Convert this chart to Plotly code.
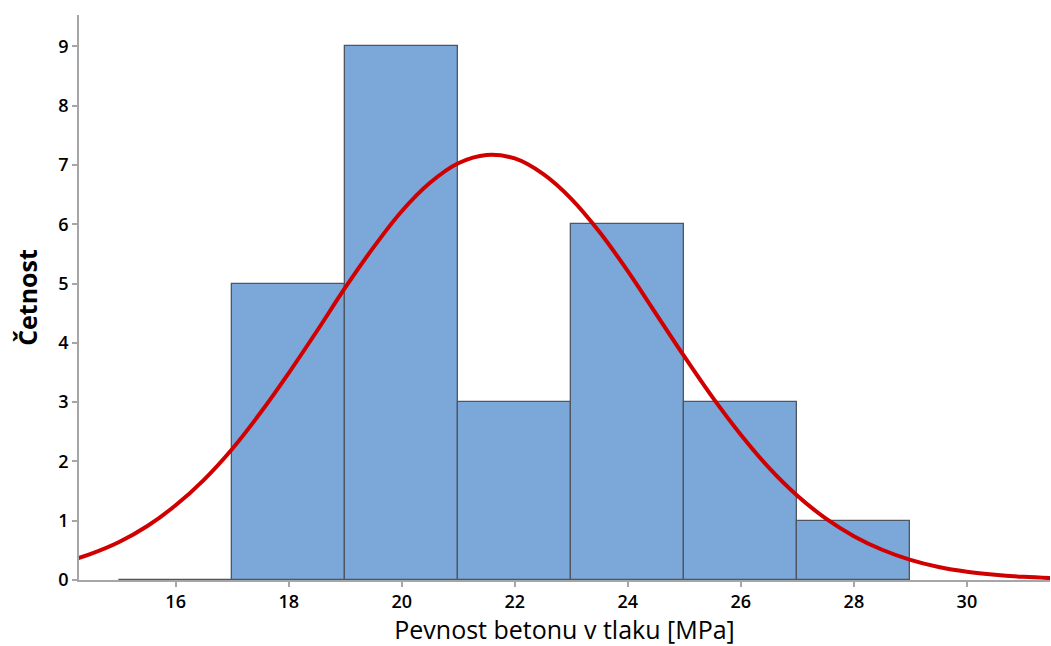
import plotly.graph_objects as go

# Histogram bins (centers), counts
bin_centers = [16, 18, 20, 22, 24, 26, 28]
counts = [0, 5, 9, 3, 6, 3, 1]

# Fitted normal curve
curve_x = [14.0, 14.5, 15.0, 15.5, 16.0, 16.5, 17.0, 17.5, 18.0, 18.5, 19.0, 19.5,
           20.0, 20.5, 21.0, 21.5, 22.0, 22.5, 23.0, 23.5, 24.0, 24.5, 25.0, 25.5,
           26.0, 26.5, 27.0, 27.5, 28.0, 28.5, 29.0, 29.5, 30.0, 30.5, 31.0, 31.5, 32.0]
curve_y = [0.29, 0.44, 0.64, 0.91, 1.26, 1.69, 2.21, 2.82, 3.49, 4.20, 4.93, 5.61,
           6.22, 6.70, 7.03, 7.17, 7.11, 6.85, 6.43, 5.87, 5.21, 4.49, 3.77, 3.08,
           2.45, 1.89, 1.42, 1.04, 0.74, 0.51, 0.34, 0.22, 0.14, 0.088, 0.053, 0.031, 0.018]

x_ticks = [16, 18, 20, 22, 24, 26, 28, 30]
y_ticks = [0, 1, 2, 3, 4, 5, 6, 7, 8, 9]

fig = go.Figure()
fig.add_trace(go.Bar(
    x=bin_centers, y=counts, width=[2] * len(bin_centers),
    marker=dict(color="#7BA7D9", line=dict(color="#4d5661", width=1.3)),
    showlegend=False,
))
fig.add_trace(go.Scatter(
    x=curve_x, y=curve_y, mode="lines",
    line=dict(color="#D10000", width=4, shape="spline"),
    showlegend=False,
))

axis_common = dict(
    showline=True, linecolor="#a6a6a6", linewidth=1.5,
    ticks="outside", ticklen=5, tickcolor="#a6a6a6", tickwidth=1.5,
    showgrid=False, zeroline=False, automargin=False,
    tickfont=dict(family="Open Sans", size=18, color="black", weight=600),
)

fig.update_layout(
    width=1051, height=646,
    margin=dict(l=79, r=1, t=15, b=66),
    plot_bgcolor="white", paper_bgcolor="white",
    bargap=0,
    xaxis=dict(range=[14.29, 31.47], tickvals=x_ticks,
               title=dict(text="Pevnost betonu v tlaku [MPa]", standoff=8,
                          font=dict(family="Open Sans", size=25, color="black", weight=500)),
               **axis_common),
    yaxis=dict(range=[0, 9.53], tickvals=y_ticks,
               title=dict(text="Četnost", standoff=14,
                          font=dict(family="Open Sans", size=25, color="black", weight=700)),
               **axis_common),
)

fig.write_html("out.html", config={"displayModeBar": False},
               post_script="document.body.style.margin='0';")
